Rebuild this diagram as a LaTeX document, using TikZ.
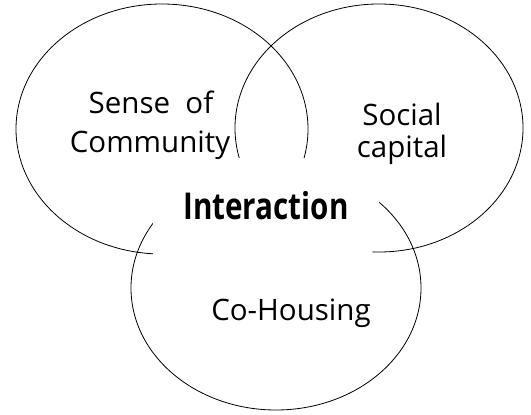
\documentclass[tikz,border=0pt]{standalone}
\usepackage{fontspec}
\setmainfont{Open Sans}
\newfontfamily\corefont{Open Sans}[FakeStretch=0.8]
\usetikzlibrary{positioning}
\definecolor{CInk}{HTML}{000000}

\tikzset{
    ring/.style={draw=CInk, line width=0.8pt},
    lbl/.style={font=\fontsize{29.5}{35}\selectfont, inner sep=0pt, anchor=base},
    core/.style={font=\corefont\bfseries\fontsize{37}{40}\selectfont, inner sep=0pt, anchor=base},
}

\begin{document}
\begin{tikzpicture}[x=1pt, y=-1pt]
    \useasboundingbox (0,0) rectangle (531,415);

    % Rings
    \draw[ring] (162,129) ellipse [x radius=146pt, y radius=125pt];
    \draw[ring] (379,128) ellipse [x radius=144pt, y radius=124pt];
    \draw[ring] (276,288) ellipse [x radius=145pt, y radius=122pt];

    % Cleared middle
    \fill[white] (237,158) -- (303,158) -- (350,170) -- (380,196) -- (372,256)
        -- (153,256) -- (153,221) -- (175,185) -- cycle;

    % Labels
    \node[lbl] (sense) at (151,113) {Sense\ \ of};
    \node[lbl] (community) at (150,152) {Community};
    \node[lbl] (social) at (402,125) {Social};
    \node[lbl] (capital) at (402,157) {capital};
    \node[lbl] (cohousing) at (291,320) {Co-Housing};
    \node[core] (interaction) at (266,219) {Interaction};
\end{tikzpicture}
\end{document}
